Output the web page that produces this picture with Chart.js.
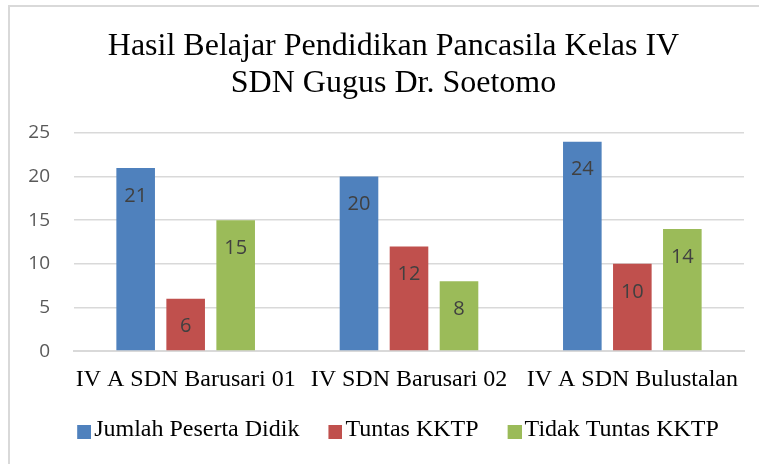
<!DOCTYPE html>
<html>
<head>
<meta charset="utf-8">
<script src="https://cdn.jsdelivr.net/npm/chart.js@4.4.1/dist/chart.umd.min.js"></script>
<style>
html,body{margin:0;padding:0;overflow:hidden;background:#fff;width:759px;height:464px;}
#frame{position:absolute;left:8px;top:5px;border-left:2px solid #d9d9d9;border-top:2px solid #d9d9d9;width:770px;height:460px;}
canvas{display:block;}
</style>
</head>
<body>
<div id="frame"><canvas id="c" width="770" height="460"></canvas></div>
<script>
// ---- data ----
const titleLines = ['Hasil Belajar Pendidikan Pancasila Kelas IV', 'SDN Gugus Dr. Soetomo'];
const categories = ['IV A SDN Barusari 01', 'IV SDN Barusari 02', 'IV A SDN Bulustalan'];
const seriesNames = ['Jumlah Peserta Didik', 'Tuntas KKTP', 'Tidak Tuntas KKTP'];
const jumlahPesertaDidik = [21, 20, 24];
const tuntasKKTP = [6, 12, 10];
const tidakTuntasKKTP = [15, 8, 14];
const yMin = 0, yMax = 25, yStep = 5;

// ---- styles ----
const colors = ['#4F81BD', '#C0504D', '#9BBB59'];
const serif = "'Liberation Serif', 'Times New Roman', serif";
const sans = "'Open Sans', 'Liberation Sans', sans-serif";

function makeMarker(color) {
  const cv = document.createElement('canvas');
  cv.width = 32; cv.height = 18;
  const g = cv.getContext('2d');
  g.fillStyle = color;
  g.fillRect(18, 4, 14, 14);
  return cv;
}
const markers = colors.map(makeMarker);

const valueLabels = {
  id: 'valueLabels',
  afterDatasetsDraw(chart) {
    const ctx = chart.ctx;
    ctx.save();
    ctx.font = "20px " + sans;
    ctx.fillStyle = '#404040';
    ctx.textAlign = 'center';
    ctx.textBaseline = 'middle';
    chart.data.datasets.forEach((ds, i) => {
      const meta = chart.getDatasetMeta(i);
      meta.data.forEach((bar, j) => {
        ctx.fillText(String(ds.data[j]), bar.x, bar.y + 28);
      });
    });
    ctx.restore();
  }
};

const seriesData = [jumlahPesertaDidik, tuntasKKTP, tidakTuntasKKTP];

new Chart(document.getElementById('c'), {
  type: 'bar',
  data: {
    labels: categories,
    datasets: seriesNames.map((name, i) => ({
      label: name,
      data: seriesData[i],
      backgroundColor: colors[i],
      borderWidth: 0,
      categoryPercentage: 0.6717,
      barPercentage: 0.772
    }))
  },
  options: {
    responsive: false,
    devicePixelRatio: 1,
    animation: false,
    layout: { padding: { left: 10, right: 13, top: 0, bottom: 15 } },
    plugins: {
      title: {
        display: true,
        text: titleLines,
        color: '#000000',
        font: { family: serif, size: 32, weight: 'normal', lineHeight: 1.15 },
        padding: { top: 21.5, bottom: 30.9 }
      },
      legend: {
        display: true,
        position: 'bottom',
        labels: {
          usePointStyle: true,
          boxWidth: 14,
          boxHeight: 14,
          padding: 20,
          color: '#000000',
          font: { family: serif, size: 24 },
          generateLabels(chart) {
            const items = Chart.defaults.plugins.legend.labels.generateLabels(chart);
            items.forEach((it, i) => { it.pointStyle = markers[i]; });
            return items;
          }
        }
      },
      tooltip: { enabled: false }
    },
    scales: {
      x: {
        grid: { display: false, drawTicks: false },
        border: { display: true, color: '#D9D9D9', width: 2 },
        ticks: { color: '#000000', font: { family: serif, size: 24 }, padding: 14.5, maxRotation: 0, autoSkip: false },
        afterFit(scale) { scale.height = 46.9; }
      },
      y: {
        min: yMin,
        max: yMax,
        ticks: { stepSize: yStep, color: '#595959', font: { family: sans, size: 19 }, padding: 24 },
        grid: { color: '#D9D9D9', lineWidth: 1.5, drawTicks: false },
        border: { display: false },
        afterFit(scale) { scale.width = 54; }
      },
      spacer: {
        type: 'linear',
        position: 'right',
        display: true,
        grid: { display: false, drawTicks: false },
        ticks: { display: false },
        border: { display: false },
        afterFit(scale) { scale.width = 23; }
      }
    }
  },
  plugins: [valueLabels]
});
</script>
</body>
</html>
